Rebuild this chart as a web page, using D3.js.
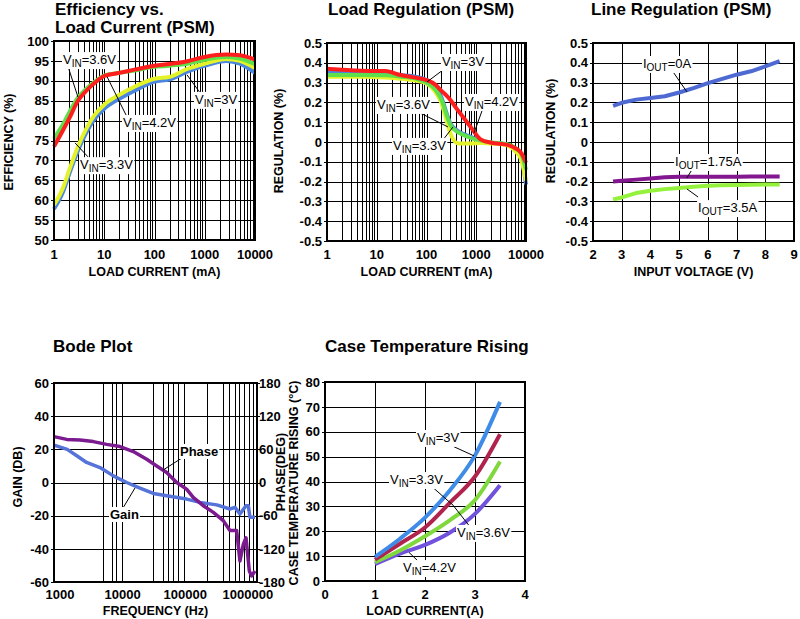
<!DOCTYPE html>
<html lang="en">
<head>
<meta charset="UTF-8">
<title>Converter characteristics</title>
<script src="https://d3js.org/d3.v7.min.js"></script>
<style>
  body { margin: 0; background: #fff; }
  svg { display: block; font-family: "Liberation Sans", Arial, Helvetica, sans-serif; }
  .grid line { stroke: #000; stroke-width: 1; shape-rendering: crispEdges; }
  .tickmark { stroke: #000; stroke-width: 1; shape-rendering: crispEdges; }
  .frame { fill: none; stroke: #000; stroke-width: 2; shape-rendering: crispEdges; }
  .tick-label { font-size: 13px; font-weight: bold; }
  .axis-title { font-size: 12.5px; font-weight: bold; }
  .title { font-size: 17px; font-weight: bold; }
  .curve { fill: none; stroke-linejoin: round; }
  .leader { stroke: #000; stroke-width: 1; }
  .note { font-size: 13px; }
</style>
</head>
<body>
<script>
// ---- efficiency vs load current ----
var effLoadMA = [1, 1.5, 2, 3, 4.4, 6.5, 10, 20, 40, 100, 200, 450, 1000, 2700, 5000, 10000];
var eff30 = [57.8, 62, 66.5, 72.5, 77, 80.5, 83, 85.5, 87.5, 89.8, 90.3, 92.3, 93.8, 95.0, 94.3, 92.0];
var eff33 = [58.8, 63, 67.5, 73.5, 78, 81.5, 84, 86.5, 88.5, 90.5, 91.0, 93.0, 94.3, 95.5, 95.0, 93.2];
var eff36 = [75.5, 79, 82, 85.8, 88, 89.8, 91.3, 92, 92.6, 93.5, 93.8, 94.3, 95.3, 96.0, 95.6, 94.2];
var eff42 = [73.5, 77.5, 80.5, 85, 87.5, 89.5, 91.2, 92, 92.8, 93.8, 94.2, 94.9, 96.0, 96.6, 96.4, 95.3];
var effTicksY = [50, 55, 60, 65, 70, 75, 80, 85, 90, 95, 100];

// ---- load regulation ----
var regLoadMA = [1, 5, 15, 30, 60, 100, 150, 200, 250, 300, 400, 500, 800, 1200, 2000, 4000, 6000, 8000, 10000];
var reg30 = [0.355, 0.35, 0.346, 0.338, 0.33, 0.313, 0.28, 0.225, 0.15, 0.095, 0.06, 0.045, 0.025, 0.005, -0.004, -0.012, -0.035, -0.07, -0.215];
var reg33 = [0.33, 0.33, 0.326, 0.32, 0.31, 0.296, 0.254, 0.196, 0.113, 0.046, -0.004, -0.008, -0.008, -0.004, -0.008, -0.015, -0.045, -0.09, -0.195];
var reg36 = [0.338, 0.338, 0.337, 0.33, 0.32, 0.3, 0.265, 0.213, 0.14, 0.088, 0.054, 0.04, 0.02, 0.008, -0.002, -0.01, -0.03, -0.06, -0.14];
var reg42 = [0.37, 0.36, 0.358, 0.338, 0.325, 0.313, 0.29, 0.258, 0.235, 0.213, 0.17, 0.138, 0.071, 0.015, -0.004, -0.013, -0.03, -0.055, -0.105];
var loadTicksX = [1, 10, 100, 1000, 10000];
var regTicksY = [-0.5, -0.4, -0.3, -0.2, -0.1, 0, 0.1, 0.2, 0.3, 0.4, 0.5];

// ---- line regulation ----
var lineVin = [2.7, 3, 3.5, 4, 4.5, 5, 5.5, 6, 6.5, 7, 7.5, 8, 8.5];
var line0A = [0.183, 0.198, 0.214, 0.222, 0.231, 0.25, 0.272, 0.297, 0.319, 0.34, 0.357, 0.382, 0.408];
var line175A = [-0.2, -0.196, -0.19, -0.184, -0.178, -0.175, -0.175, -0.175, -0.175, -0.175, -0.174, -0.174, -0.174];
var line35A = [-0.29, -0.28, -0.258, -0.246, -0.238, -0.232, -0.226, -0.221, -0.219, -0.217, -0.216, -0.215, -0.215];
var vinTicksX = [2, 3, 4, 5, 6, 7, 8, 9];

// ---- bode plot ----
var gainHz = [800, 1300, 1850, 2650, 4350, 7100, 11600, 18900, 30900, 50500, 105000, 172000, 318000, 517000, 622000, 748000, 934000, 1016000, 1082000, 1300000];
var gainDb = [22.5, 20, 16.1, 12.1, 9, 4, 0, -3.4, -6.6, -8, -10, -12, -13.5, -16, -15, -19, -14, -14, -21, -21];
var phaseHz = [800, 1275, 2080, 3400, 5550, 9060, 14800, 24200, 35000, 50500, 73000, 105000, 134000, 194000, 281000, 405000, 517000, 662000, 748000, 846000, 934000, 1055000, 1150000, 1300000];
var phaseDeg = [83, 78, 77, 74, 69, 65, 56, 42, 30, 18, 0, -12, -27, -42, -54, -69, -87, -87, -142, -112, -100, -160, -169, -160];
var bodeGridHz = [4800, 6700, 7700, 9900, 30900, 43600, 53500, 64400, 77400, 96500, 225000, 396000, 505000, 622000, 730000, 877000, 1042000, 1222000];
var freqTicksX = [1000, 10000, 100000, 1000000];
var gainTicks = [-60, -40, -20, 0, 20, 40, 60];
var phaseTicks = [-180, -120, -60, 0, 60, 120, 180];

// ---- case temperature ----
var caseLoadA = [1, 1.5, 2, 2.5, 3, 3.5];
var case30 = [9.7, 17, 25.5, 36.5, 50.5, 72];
var case33 = [8.6, 15, 21.5, 31.5, 42, 59];
var case36 = [7.6, 12.3, 18, 24.5, 32.5, 48];
var case42 = [6.8, 11, 14.5, 19.5, 27, 38.5];
var ampTicksX = [0, 1, 2, 3, 4];
var tempTicksY = [0, 10, 20, 30, 40, 50, 60, 70, 80];

var svg = d3.select("body").append("svg")
    .attr("width", 800)
    .attr("height", 619);

function zip(xs, ys) {
    return xs.map(function (v, i) { return [v, ys[i]]; });
}
function crisp(v) { return Math.round(v) + 0.5; }
function vin(v) { return [["V"], ["IN", 1], ["=" + v]]; }
function iout(v) { return [["I"], ["OUT", 1], ["=" + v]]; }
function fmt1(v) { return String(+v.toFixed(1)); }

function drawPanel(p) {
    var g = svg.append("g");
    var x0 = p.x.range()[0], x1 = p.x.range()[1];
    var yb = p.y.range()[0], yt = p.y.range()[1];

    var grid = g.append("g").attr("class", "grid");
    grid.selectAll(".gx").data(p.gridX).join("line").attr("class", "gx")
        .attr("x1", function (d) { return crisp(p.x(d)); })
        .attr("x2", function (d) { return crisp(p.x(d)); })
        .attr("y1", yt).attr("y2", yb);
    grid.selectAll(".gy").data(p.ticksY).join("line").attr("class", "gy")
        .attr("x1", x0).attr("x2", x1)
        .attr("y1", function (d) { return crisp(p.y(d)); })
        .attr("y2", function (d) { return crisp(p.y(d)); });

    g.append("g").selectAll("line").data(p.ticksY).join("line").attr("class", "tickmark")
        .attr("x1", x0 - 3).attr("x2", x0)
        .attr("y1", function (d) { return crisp(p.y(d)); })
        .attr("y2", function (d) { return crisp(p.y(d)); });

    g.append("g").selectAll("text").data(p.ticksY).join("text").attr("class", "tick-label")
        .attr("x", x0 - 5)
        .attr("y", function (d) { return p.y(d); })
        .attr("dy", "0.36em")
        .attr("text-anchor", "end")
        .text(p.fmtY || String);

    g.append("g").selectAll("text").data(p.ticksX).join("text").attr("class", "tick-label")
        .attr("x", function (d) { return p.x(d); })
        .attr("y", p.xTickY)
        .attr("text-anchor", "middle")
        .text(String);

    if (p.y2) {
        g.append("g").selectAll("line").data(p.ticksY2).join("line").attr("class", "tickmark")
            .attr("x1", x1).attr("x2", x1 + 3)
            .attr("y1", function (d) { return crisp(p.y2(d)); })
            .attr("y2", function (d) { return crisp(p.y2(d)); });
        g.append("g").selectAll("text").data(p.ticksY2).join("text").attr("class", "tick-label")
            .attr("x", x1 + 2)
            .attr("y", function (d) { return p.y2(d); })
            .attr("dy", "0.36em")
            .text(String);
    }

    p.title.forEach(function (t, i) {
        g.append("text").attr("class", "title")
            .attr("x", p.titlePos[0]).attr("y", p.titlePos[1] + i * 18)
            .text(t);
    });

    g.append("text").attr("class", "axis-title")
        .attr("x", (x0 + x1) / 2).attr("y", p.xTitleY)
        .attr("text-anchor", "middle")
        .text(p.xTitle);

    p.yTitles.forEach(function (t) {
        g.append("text").attr("class", "axis-title")
            .attr("transform", "translate(" + t.pos[0] + "," + t.pos[1] + ") rotate(-90)")
            .attr("text-anchor", "middle")
            .text(t.text);
    });

    g.append("g").selectAll("path").data(p.series).join("path")
        .attr("class", "curve")
        .attr("stroke", function (d) { return d.color; })
        .attr("stroke-width", p.width)
        .attr("d", function (d) {
            var ys = d.y || p.y;
            return d3.line()
                .x(function (v) { return p.x(v[0]); })
                .y(function (v) { return ys(v[1]); })
                .curve(p.curve || d3.curveLinear)(d.values);
        });

    g.append("rect").attr("class", "frame")
        .attr("x", x0).attr("y", yt)
        .attr("width", x1 - x0).attr("height", yb - yt);

    (p.notes || []).forEach(function (n) {
        if (n.from) {
            g.append("line").attr("class", "leader")
                .attr("x1", p.x(n.from[0])).attr("y1", p.y(n.from[1]))
                .attr("x2", p.x(n.to[0])).attr("y2", p.y(n.to[1]));
        }
        var t = g.append("text").attr("class", "note")
            .attr("x", p.x(n.at[0])).attr("y", p.y(n.at[1]))
            .attr("font-weight", n.bold ? "bold" : null);
        var down = false;
        n.parts.forEach(function (part) {
            var s = t.append("tspan").text(part[0]);
            if (part[1]) { s.attr("font-size", "10px").attr("dy", 3); down = true; }
            else if (down) { s.attr("dy", -3); down = false; }
        });
        var bb = t.node().getBBox();
        g.insert("rect", function () { return t.node(); })
            .attr("x", bb.x - 1).attr("y", bb.y)
            .attr("width", bb.width + 2).attr("height", bb.height)
            .attr("fill", "#fff");
    });
}

// efficiency
var effX = d3.scaleLog().domain([1, 10000]).range([54, 255]);
drawPanel({
    x: effX,
    y: d3.scaleLinear().domain([50, 100]).range([240, 41]),
    gridX: effX.ticks(),
    ticksX: loadTicksX, xTickY: 259,
    ticksY: effTicksY,
    title: ["Efficiency vs.", "Load Current (PSM)"],
    titlePos: [55, 15],
    xTitle: "LOAD CURRENT (mA)", xTitleY: 276,
    yTitles: [{ text: "EFFICIENCY (%)", pos: [13, 142] }],
    curve: d3.curveMonotoneX,
    width: 4,
    series: [
        { color: "#4a86e0", values: zip(effLoadMA, eff30) },
        { color: "#e4f22a", values: zip(effLoadMA, eff33) },
        { color: "#5ee04a", values: zip(effLoadMA, eff36) },
        { color: "#ff1e1e", values: zip(effLoadMA, eff42) }
    ],
    notes: [
        { parts: vin("3.6V"), at: [1.51, 94.2], from: [1.9, 93.6], to: [3.0, 85.9] },
        { parts: vin("4.2V"), at: [23.6, 78.4], from: [28.4, 80.9], to: [11.4, 91.0] },
        { parts: vin("3V"), at: [640, 84.2], from: [807, 87.0], to: [443, 91.5] },
        { parts: vin("3.3V"), at: [3.29, 67.8], from: [4.74, 70.9], to: [2.62, 74.4] }
    ]
});

// load regulation
var regX = d3.scaleLog().domain([1, 10000]).range([327, 526]);
drawPanel({
    x: regX,
    y: d3.scaleLinear().domain([-0.5, 0.5]).range([241, 43]),
    gridX: regX.ticks(),
    ticksX: loadTicksX, xTickY: 259,
    ticksY: regTicksY,
    fmtY: fmt1,
    title: ["Load Regulation (PSM)"],
    titlePos: [328, 15],
    xTitle: "LOAD CURRENT (mA)", xTitleY: 276,
    yTitles: [{ text: "REGULATION (%)", pos: [283, 141] }],
    curve: d3.curveMonotoneX,
    width: 4,
    series: [
        { color: "#4a86e0", values: zip(regLoadMA, reg30) },
        { color: "#e4f22a", values: zip(regLoadMA, reg33) },
        { color: "#5ee04a", values: zip(regLoadMA, reg36) },
        { color: "#ff1e1e", values: zip(regLoadMA, reg42) }
    ],
    notes: [
        { parts: vin("3V"), at: [204, 0.384], from: [258, 0.379], to: [102, 0.303] },
        { parts: vin("3.6V"), at: [10.1, 0.167], from: [67.6, 0.152], to: [270, 0.076] },
        { parts: vin("4.2V"), at: [594, 0.182], from: [1370, 0.172], to: [900, 0.045] },
        { parts: vin("3.3V"), at: [21.2, -0.04], from: [214, 0.01], to: [341, 0.076] }
    ]
});

// line regulation
drawPanel({
    x: d3.scaleLinear().domain([2, 9]).range([593, 794]),
    y: d3.scaleLinear().domain([-0.5, 0.5]).range([241, 43]),
    gridX: vinTicksX,
    ticksX: vinTicksX, xTickY: 259,
    ticksY: regTicksY,
    fmtY: fmt1,
    title: ["Line Regulation (PSM)"],
    titlePos: [591, 15],
    xTitle: "INPUT VOLTAGE (V)", xTitleY: 276,
    yTitles: [{ text: "REGULATION (%)", pos: [555, 131] }],
    width: 4,
    series: [
        { color: "#4e6ad2", values: zip(lineVin, line0A) },
        { color: "#82178f", values: zip(lineVin, line175A) },
        { color: "#94f23c", values: zip(lineVin, line35A) }
    ],
    notes: [
        { parts: iout("0A"), at: [3.74, 0.374], from: [4.79, 0.354], to: [5.27, 0.253] },
        { parts: iout("1.75A"), at: [4.86, -0.121], from: [5.48, -0.131], to: [5.27, -0.182] },
        { parts: iout("3.5A"), at: [5.66, -0.354], from: [5.66, -0.278], to: [5.27, -0.237] }
    ]
});

// bode plot
var phaseY = d3.scaleLinear().domain([-180, 180]).range([582, 383]);
drawPanel({
    x: d3.scaleLog().domain([800, 1400000]).range([54, 257]),
    y: d3.scaleLinear().domain([-60, 60]).range([582, 383]),
    y2: phaseY,
    gridX: bodeGridHz,
    ticksX: freqTicksX, xTickY: 599,
    ticksY: gainTicks,
    ticksY2: phaseTicks,
    title: ["Bode Plot"],
    titlePos: [53, 352],
    xTitle: "FREQUENCY (Hz)", xTitleY: 615,
    yTitles: [
        { text: "GAIN (DB)", pos: [22, 477] },
        { text: "PHASE(DEG)", pos: [285, 472] }
    ],
    width: 3.5,
    series: [
        { color: "#5573d8", values: zip(gainHz, gainDb) },
        { color: "#7b1b8f", values: zip(phaseHz, phaseDeg), y: phaseY }
    ],
    notes: [
        { parts: [["Phase"]], bold: true, at: [82400, 16], from: [88700, 14.8], to: [44100, 7.5] },
        { parts: [["Gain"]], bold: true, at: [6280, -22], from: [10120, -15.4], to: [15740, -3.3] }
    ]
});

// case temperature rising
drawPanel({
    x: d3.scaleLinear().domain([0, 4]).range([325, 525]),
    y: d3.scaleLinear().domain([0, 80]).range([581, 382]),
    gridX: ampTicksX,
    ticksX: ampTicksX, xTickY: 599,
    ticksY: tempTicksY,
    title: ["Case Temperature Rising"],
    titlePos: [325, 352],
    xTitle: "LOAD CURRENT(A)", xTitleY: 615,
    yTitles: [{ text: "CASE TEMPERATURE RISING (\u00B0C)", pos: [298, 483] }],
    curve: d3.curveMonotoneX,
    width: 4,
    series: [
        { color: "#7052dc", values: zip(caseLoadA, case42) },
        { color: "#80d83e", values: zip(caseLoadA, case36) },
        { color: "#b0234c", values: zip(caseLoadA, case33) },
        { color: "#3f8ce8", values: zip(caseLoadA, case30) }
    ],
    notes: [
        { parts: vin("3V"), at: [1.84, 55.9], from: [2.5, 54.7], to: [2.98, 50.3] },
        { parts: vin("3.3V"), at: [1.3, 39], from: [2.1, 38.6], to: [2.56, 30.5] },
        { parts: vin("3.6V"), at: [2.64, 17.7], from: [2.88, 22.3], to: [2.56, 30.5] },
        { parts: vin("4.2V"), at: [1.56, 3.6], from: [1.68, 11.5], to: [1.95, 6.3] }
    ]
});
</script>
</body>
</html>
